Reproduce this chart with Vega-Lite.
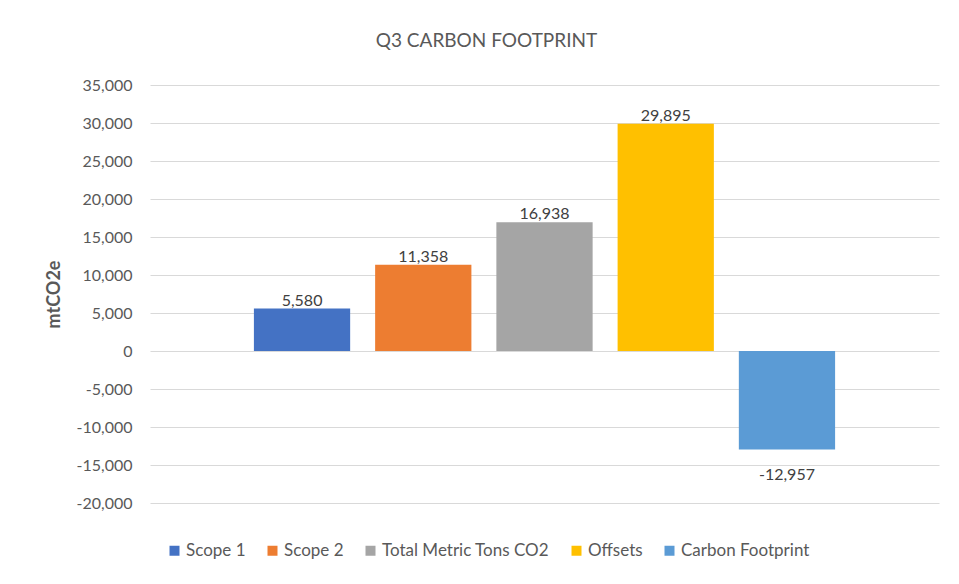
{
  "$schema": "https://vega.github.io/schema/vega-lite/v6.json",
  "width": 789,
  "height": 418,
  "autosize": {"type": "none"},
  "padding": {"left": 150, "top": 85, "right": 20, "bottom": 81},
  "background": "white",
  "title": {
    "text": "Q3 CARBON FOOTPRINT",
    "fontSize": 19,
    "font": "Lato",
    "fontWeight": "normal",
    "color": "#595959",
    "anchor": "middle",
    "frame": "group",
    "dx": -58,
    "offset": 26
  },
  "data": {
    "values": [
      {"series": "Scope 1", "value": 5580},
      {"series": "Scope 2", "value": 11358},
      {"series": "Total Metric Tons CO2", "value": 16938},
      {"series": "Offsets", "value": 29895},
      {"series": "Carbon Footprint", "value": -12957}
    ]
  },
  "encoding": {
    "x": {
      "field": "series",
      "type": "nominal",
      "sort": null,
      "scale": {"paddingInner": 0.206, "paddingOuter": 0.857},
      "axis": null
    },
    "y": {
      "field": "value",
      "type": "quantitative",
      "scale": {"domain": [-20000, 35000], "nice": false, "zero": false},
      "axis": {
        "values": [-20000, -15000, -10000, -5000, 0, 5000, 10000, 15000, 20000, 25000, 30000, 35000],
        "format": ",.0f",
        "title": "mtCO2e",
        "titleFont": "Lato",
        "titleFontSize": 18,
        "titleFontWeight": "bold",
        "titleColor": "#595959",
        "titlePadding": 13,
        "labelFont": "Lato",
        "labelFontSize": 16,
        "labelColor": "#595959",
        "labelPadding": 18,
        "ticks": false,
        "domain": false,
        "grid": true,
        "gridColor": "#d9d9d9",
        "gridWidth": 1
      }
    }
  },
  "layer": [
    {
      "mark": {"type": "bar"},
      "encoding": {
        "color": {
          "field": "series",
          "type": "nominal",
          "sort": null,
          "scale": {
            "domain": ["Scope 1", "Scope 2", "Total Metric Tons CO2", "Offsets", "Carbon Footprint"],
            "range": ["#4472C4", "#ED7D31", "#A5A5A5", "#FFC000", "#5B9BD5"]
          },
          "legend": {
            "title": null,
            "orient": "none",
            "direction": "horizontal",
            "legendX": 16,
            "legendY": 457,
            "symbolType": "square",
            "symbolSize": 100,
            "symbolStrokeWidth": 0,
            "symbolOpacity": 1,
            "labelFont": "Lato",
            "labelFontSize": 17,
            "labelColor": "#595959",
            "labelLimit": 400,
            "columnPadding": 18,
            "labelOffset": 3
          }
        }
      }
    },
    {
      "transform": [{"filter": "datum.value >= 0"}],
      "mark": {"type": "text", "baseline": "alphabetic", "dy": -3, "font": "Lato", "fontSize": 16, "color": "#404040"},
      "encoding": {
        "text": {"field": "value", "type": "quantitative", "format": ",.0f"}
      }
    },
    {
      "transform": [{"filter": "datum.value < 0"}],
      "mark": {"type": "text", "baseline": "top", "dy": 18, "font": "Lato", "fontSize": 16, "color": "#404040"},
      "encoding": {
        "text": {"field": "value", "type": "quantitative", "format": ",.0f"}
      }
    }
  ],
  "config": {
    "view": {"stroke": null},
    "locale": {
      "number": {"decimal": ".", "thousands": ",", "grouping": [3], "currency": ["$", ""], "minus": "-"}
    }
  }
}
